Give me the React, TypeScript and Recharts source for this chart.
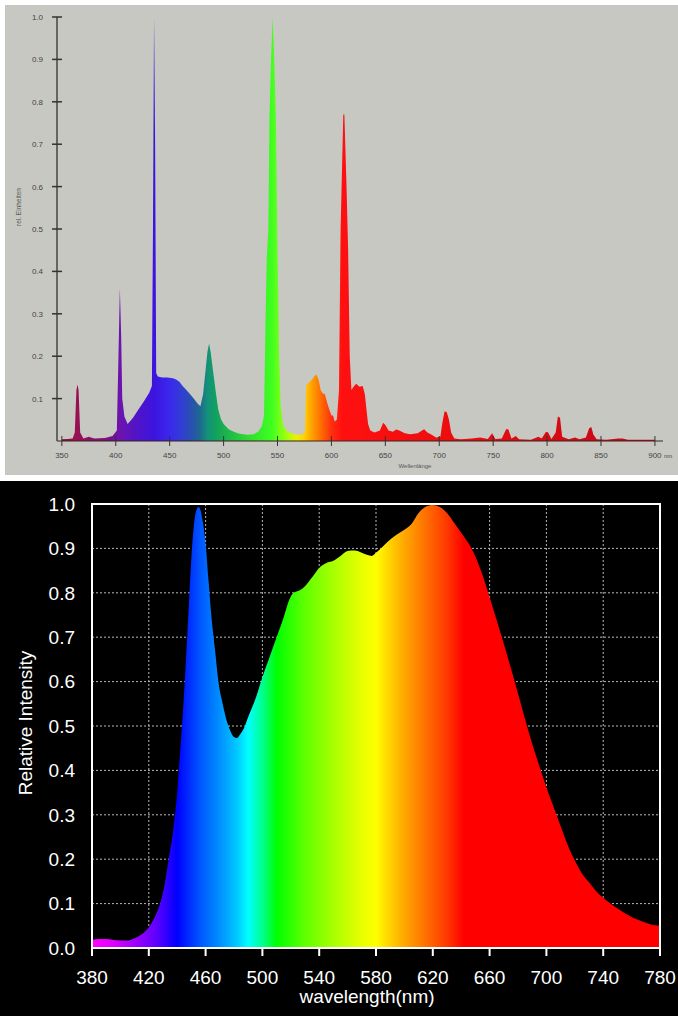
import { AreaChart, Area, XAxis, YAxis, CartesianGrid, ReferenceArea, Label } from 'recharts';

// fluorescent lamp spectrum (top panel)
const fluorWavelengths = [
  350, 355, 360, 362, 363.5, 364.5, 365.5, 367, 370, 375, 380, 390, 397, 401, 402.5, 403.8, 405, 406, 408, 411,
  416, 421, 426, 431, 433.5, 434.5, 435.5, 436.5, 437.5, 439, 443, 448, 453, 456, 459, 462, 465.5, 469, 473, 476,
  478.5, 481, 483, 485, 486.5, 488, 490, 492.5, 495, 497.5, 500, 505, 510, 515, 522, 528, 532, 535.5, 537.5, 539,
  540, 541.5, 542.5, 544, 545.5, 547, 548.5, 550, 551.5, 553, 555, 558, 565, 572, 575.5, 576.5, 578, 580, 582, 584,
  586, 588, 590, 592, 594, 596, 598, 600, 601.5, 603, 605, 607, 608.5, 611, 612, 614, 615.5, 617, 618.5, 621,
  623, 626, 629, 631, 632.5, 634, 636, 640, 645, 648, 650, 653, 657, 660, 663, 668, 673, 680, 684, 686,
  689, 693, 697, 701, 703, 705, 707, 709, 711, 714, 720, 730, 738, 745, 749, 752, 758, 762, 764, 767,
  771, 774, 785, 792, 795, 799, 801, 804, 808, 810, 812, 814, 820, 826, 830, 836, 839, 841, 843, 846,
  855, 866, 870, 875, 900,
];
const fluorIntensity = [
  0.004, 0.005, 0.006, 0.02, 0.12, 0.133, 0.12, 0.02, 0.006, 0.01, 0.006, 0.007, 0.012, 0.025, 0.2, 0.36, 0.25, 0.1, 0.058, 0.04,
  0.055, 0.074, 0.093, 0.114, 0.13, 0.5, 1.0, 0.7, 0.16, 0.152, 0.15, 0.15, 0.148, 0.145, 0.14, 0.13, 0.12, 0.11, 0.098, 0.088,
  0.082, 0.11, 0.16, 0.21, 0.23, 0.21, 0.17, 0.12, 0.075, 0.052, 0.04, 0.027, 0.021, 0.017, 0.015, 0.016, 0.022, 0.035, 0.06, 0.3,
  0.43, 0.5, 0.76, 0.9, 1.0, 0.9, 0.76, 0.45, 0.2, 0.08, 0.04, 0.025, 0.016, 0.014, 0.02, 0.13, 0.135, 0.14, 0.145, 0.152,
  0.157, 0.145, 0.12, 0.112, 0.11, 0.09, 0.074, 0.06, 0.06, 0.046, 0.05, 0.12, 0.5, 0.77, 0.77, 0.6, 0.45, 0.2, 0.12, 0.13,
  0.135, 0.128, 0.13, 0.11, 0.074, 0.04, 0.025, 0.02, 0.025, 0.043, 0.038, 0.025, 0.022, 0.027, 0.025, 0.018, 0.016, 0.018, 0.025, 0.028,
  0.02, 0.015, 0.008, 0.01, 0.045, 0.07, 0.068, 0.05, 0.02, 0.006, 0.004, 0.006, 0.008, 0.005, 0.018, 0.005, 0.006, 0.028, 0.028, 0.006,
  0.012, 0.004, 0.003, 0.01, 0.006, 0.022, 0.02, 0.005, 0.02, 0.058, 0.055, 0.01, 0.004, 0.008, 0.004, 0.008, 0.03, 0.033, 0.015, 0.004,
  0.003, 0.006, 0.006, 0.003, 0.003,
];
const fluorXTicks = [350, 400, 450, 500, 550, 600, 650, 700, 750, 800, 850, 900];
const fluorYTicks = [0.1, 0.2, 0.3, 0.4, 0.5, 0.6, 0.7, 0.8, 0.9, 1.0];

// LED spectrum (bottom panel)
const ledWavelengths = [
  380, 385, 390, 395, 400, 405, 410, 415, 420, 425, 428, 431, 434, 437, 440, 442, 444, 446, 448, 450,
  452, 454, 455, 456, 458, 460, 462, 464, 467, 469, 472, 475, 478, 480, 482, 484, 487, 490, 495, 500,
  505, 510, 515, 519, 522, 526, 530, 535, 540, 545, 550, 555, 560, 565, 570, 574, 577, 580, 585, 590,
  595, 600, 605, 610, 615, 620, 625, 630, 635, 640, 645, 650, 655, 660, 665, 670, 675, 680, 685, 690,
  695, 700, 705, 710, 715, 720, 725, 730, 735, 740, 745, 750, 755, 760, 765, 770, 775, 780,
];
const ledIntensity = [
  0.018, 0.02, 0.02, 0.018, 0.017, 0.017, 0.022, 0.031, 0.047, 0.075, 0.1, 0.14, 0.2, 0.26, 0.35, 0.44, 0.53, 0.64, 0.76, 0.88,
  0.96, 0.99, 0.993, 0.99, 0.96, 0.91, 0.83, 0.75, 0.66, 0.6, 0.55, 0.51, 0.485, 0.475, 0.473, 0.48, 0.495, 0.52, 0.56, 0.61,
  0.655, 0.7, 0.745, 0.785, 0.8, 0.805, 0.815, 0.835, 0.856, 0.867, 0.872, 0.883, 0.894, 0.895, 0.89, 0.885, 0.883, 0.89, 0.905, 0.92,
  0.932, 0.942, 0.955, 0.98, 0.994, 0.998, 0.993, 0.98, 0.958, 0.935, 0.912, 0.882, 0.84, 0.79, 0.738, 0.685, 0.63, 0.573, 0.515, 0.46,
  0.41, 0.362, 0.318, 0.275, 0.232, 0.197, 0.168, 0.148, 0.128, 0.113, 0.1, 0.089, 0.079, 0.07, 0.063, 0.057, 0.052, 0.05,
];
const ledXTicks = [380, 420, 460, 500, 540, 580, 620, 660, 700, 740, 780];
const ledYTicks = [0, 0.1, 0.2, 0.3, 0.4, 0.5, 0.6, 0.7, 0.8, 0.9, 1.0];

const fluorData = fluorWavelengths.map((w, i) => ({ w, v: fluorIntensity[i] }));
const ledData = ledWavelengths.map((w, i) => ({ w, v: ledIntensity[i] }));

// colour stops along wavelength
const fluorStops: [number, string][] = [
  [350, '#8a1040'], [362, '#9a1050'], [372, '#901060'], [392, '#7a1080'], [405, '#6a14b0'], [420, '#5014c8'],
  [436, '#3c14e0'], [450, '#3a28ee'], [462, '#3040d0'], [470, '#2850b0'], [478, '#1e6890'], [485, '#14907a'],
  [492, '#10a060'], [505, '#20b848'], [525, '#30e030'], [545, '#40ff20'], [558, '#a0ff10'], [568, '#f0f000'],
  [575, '#ffd000'], [582, '#ffa000'], [590, '#ff7000'], [600, '#ff3010'], [610, '#ff1010'], [700, '#ee0e0e'],
  [900, '#c00818'],
];
const ledStops: [number, string][] = [
  [380, '#ff00ff'], [395, '#e000ff'], [410, '#a000ff'], [425, '#6000ff'], [440, '#0000ff'], [455, '#0050ff'],
  [470, '#0090ff'], [482, '#00c8ff'], [490, '#00ffff'], [500, '#00ff90'], [510, '#00ff00'], [530, '#60ff00'],
  [550, '#a8ff00'], [570, '#e8ff00'], [580, '#ffff00'], [590, '#ffd000'], [600, '#ffa800'], [615, '#ff7000'],
  [630, '#ff3800'], [642, '#ff0000'], [780, '#ff0000'],
];

const FluorYTick = ({ x, y, payload }: any) => (
  <g>
    <line x1={x - 5} x2={x + 5} y1={y} y2={y} stroke="#333" strokeWidth={1.5} />
    <text x={x - 14} y={y} dy={3} textAnchor="end" fontSize={8} fill="#444" fontFamily="Liberation Sans, Arial">
      {payload.value.toFixed(1)}
    </text>
  </g>
);

const FluorXTick = ({ x, y, payload }: any) => (
  <g>
    <line x1={x} x2={x} y1={y - 5} y2={y + 5} stroke="#333" strokeWidth={1} />
    <text x={x} y={y + 17} textAnchor="middle" fontSize={8} fill="#444" fontFamily="Liberation Sans, Arial">
      {payload.value}
    </text>
    {payload.value === 900 && (
      <text x={x + 9} y={y + 17} fontSize={6} fill="#444" fontFamily="Liberation Sans, Arial">nm</text>
    )}
  </g>
);

const sans = 'Liberation Sans, Arial, sans-serif';

export default function App() {
  return (
    <div style={{ position: 'absolute', left: 0, top: 0, width: 678, height: 1016, background: '#fff' }}>
      <div style={{ position: 'absolute', left: 5, top: 5, width: 673, height: 470, background: '#c8c8c3' }}>
        <AreaChart width={673} height={470} data={fluorData} margin={{ top: 12, right: 15, left: 12, bottom: 0 }}>
          <defs>
            <linearGradient id="fluorGrad" x1="0" y1="0" x2="1" y2="0">
              {fluorStops.map(([w, c]) => (
                <stop key={w} offset={(w - 350) / 550} stopColor={c} />
              ))}
            </linearGradient>
          </defs>
          <XAxis
            dataKey="w"
            type="number"
            domain={[345.5, 907.5]}
            ticks={fluorXTicks}
            height={34}
            tickSize={0}
            tickMargin={0}
            tickLine={false}
            axisLine={{ stroke: '#3a2020', strokeWidth: 1 }}
            tick={<FluorXTick />}
          >
            <Label
              content={() => (
                <text x={410} y={463} textAnchor="middle" fontSize={6} fill="#555" fontFamily={sans}>Wellenlänge</text>
              )}
            />
          </XAxis>
          <YAxis
            type="number"
            domain={[0, 1]}
            ticks={fluorYTicks}
            width={40}
            tickSize={0}
            tickMargin={0}
            tickLine={false}
            axisLine={{ stroke: '#444', strokeWidth: 1.5 }}
            tick={<FluorYTick />}
          >
            <Label
              content={() => (
                <text x={16} y={202} transform="rotate(-90 16 202)" textAnchor="middle" fontSize={6.5} fill="#555" fontFamily={sans}>
                  rel. Einheiten
                </text>
              )}
            />
          </YAxis>
          <Area type="linear" dataKey="v" stroke="none" fill="url(#fluorGrad)" fillOpacity={1} isAnimationActive={false} />
        </AreaChart>
      </div>

      <div style={{ position: 'absolute', left: 0, top: 481, width: 678, height: 535, background: '#000' }}>
        <AreaChart width={678} height={535} data={ledData} margin={{ top: 23, right: 18, left: 0, bottom: 0 }}>
          <defs>
            <linearGradient id="ledGrad" x1="0" y1="0" x2="1" y2="0">
              {ledStops.map(([w, c]) => (
                <stop key={w} offset={(w - 380) / 400} stopColor={c} />
              ))}
            </linearGradient>
          </defs>
          <CartesianGrid stroke="#b8b8b8" strokeDasharray="2 2" strokeWidth={1} />
          <XAxis
            dataKey="w"
            type="number"
            domain={[380, 780]}
            ticks={ledXTicks}
            height={68}
            tickSize={8}
            tickMargin={15}
            tickLine={{ stroke: '#fff', strokeWidth: 2 }}
            axisLine={{ stroke: '#fff', strokeWidth: 2 }}
            tick={{ fill: '#fff', fontSize: 19, fontFamily: sans }}
          >
            <Label
              content={() => (
                <text x={367} y={522} textAnchor="middle" fontSize={19} fill="#fff" fontFamily={sans}>wavelength(nm)</text>
              )}
            />
          </XAxis>
          <YAxis
            type="number"
            domain={[0, 1]}
            ticks={ledYTicks}
            width={92}
            tickSize={8}
            tickMargin={9}
            tickLine={false}
            axisLine={{ stroke: '#fff', strokeWidth: 2 }}
            tickFormatter={(v: number) => v.toFixed(1)}
            tick={{ fill: '#fff', fontSize: 19, fontFamily: sans }}
          >
            <Label
              content={() => (
                <text x={32} y={242} transform="rotate(-90 32 242)" textAnchor="middle" fontSize={19} fill="#fff" fontFamily={sans}>
                  Relative Intensity
                </text>
              )}
            />
          </YAxis>
          <Area type="monotone" dataKey="v" stroke="none" fill="url(#ledGrad)" fillOpacity={1} isAnimationActive={false} />
          <ReferenceArea x1={380} x2={780} y1={0} y2={1} fill="none" stroke="#fff" strokeWidth={2} />
        </AreaChart>
      </div>
    </div>
  );
}
